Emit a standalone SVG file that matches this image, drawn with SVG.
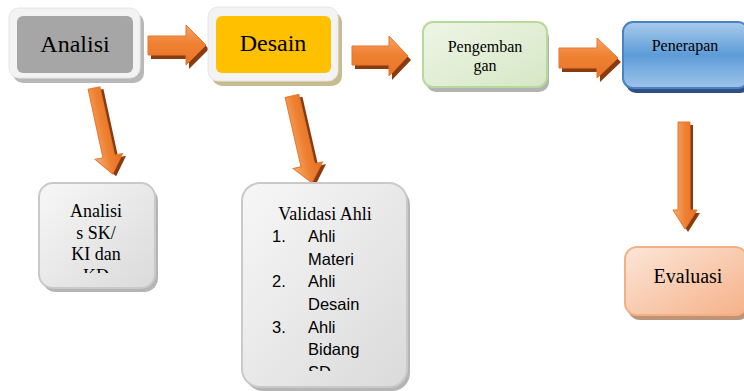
<svg xmlns="http://www.w3.org/2000/svg" width="744" height="391" viewBox="0 0 744 391">
<style>
.serif{font-family:"Liberation Serif","Times New Roman",serif;fill:#000}
.sans{font-family:"Liberation Sans",Arial,sans-serif;fill:#000;font-size:16.5px}
.ash{fill:#8a3b0e}
.arr{fill:url(#gArr)}
.arrh{fill:url(#gArrH)}
</style>
<defs>
<linearGradient id="gArr" x1="0" y1="0" x2="0" y2="1">
<stop offset="0" stop-color="#f6a46a"/><stop offset="0.45" stop-color="#ef8132"/><stop offset="1" stop-color="#e8742a"/>
</linearGradient>
<linearGradient id="gArrH" x1="0" y1="0" x2="1" y2="0">
<stop offset="0" stop-color="#f7ad78"/><stop offset="0.5" stop-color="#ef8132"/><stop offset="1" stop-color="#e46f22"/>
</linearGradient>
<linearGradient id="gGray" x1="0" y1="0" x2="1" y2="1">
<stop offset="0" stop-color="#f7f7f7"/><stop offset="1" stop-color="#dadada"/>
</linearGradient>
<linearGradient id="gGreen" x1="0" y1="0" x2="1" y2="1">
<stop offset="0" stop-color="#eef5e6"/><stop offset="1" stop-color="#d6e7c5"/>
</linearGradient>
<linearGradient id="gBlue" x1="0" y1="0" x2="0" y2="1">
<stop offset="0" stop-color="#a9cbec"/><stop offset="0.5" stop-color="#5d9cd8"/><stop offset="1" stop-color="#9fc4ea"/>
</linearGradient>
<linearGradient id="gPeach" x1="0" y1="0" x2="1" y2="1">
<stop offset="0" stop-color="#fce6d8"/><stop offset="1" stop-color="#f5b188"/>
</linearGradient>
<clipPath id="c1"><rect x="39" y="183" width="116" height="90"/></clipPath>
<clipPath id="c2"><rect x="242" y="183" width="165" height="188"/></clipPath>
</defs>

<g id="connectors">
<g id="a1"><path class="ash" transform="translate(3,4)" d="M148,36 H186 V25 L206,45 L186,65 V55 H148 Z"/><path class="arr" d="M148,36 H186 V25 L206,45 L186,65 V55 H148 Z" stroke="#e5772a" stroke-width="1"/></g>
<g id="a2"><path class="ash" transform="translate(3,4)" d="M352,46 H389 V36 L408,56 L389,76 V65 H352 Z"/><path class="arr" d="M352,46 H389 V36 L408,56 L389,76 V65 H352 Z" stroke="#e5772a" stroke-width="1"/></g>
<g id="a3"><path class="ash" transform="translate(3,4)" d="M559,48 H597 V38 L618,58 L597,78 V68 H559 Z"/><path class="arr" d="M559,48 H597 V38 L618,58 L597,78 V68 H559 Z" stroke="#e5772a" stroke-width="1"/></g>
<g id="a4" transform="translate(94,88) rotate(-12.2)"><path class="ash" transform="translate(3,3)" d="M-6,0 H6 V70 H14 L0,88 L-14,70 H-6 Z"/><path class="arrh" d="M-6,0 H6 V70 H14 L0,88 L-14,70 H-6 Z" stroke="#e5772a" stroke-width="1"/></g>
<g id="a5" transform="translate(292,96) rotate(-12.9)"><path class="ash" transform="translate(3,3)" d="M-7,0 H7 V71 H15 L0,89 L-15,71 H-7 Z"/><path class="arrh" d="M-7,0 H7 V71 H15 L0,89 L-15,71 H-7 Z" stroke="#e5772a" stroke-width="1"/></g>
<g id="a6"><path class="ash" transform="translate(3,3)" d="M678,122 H690 V210 H697 L685,229 L673,210 H678 Z"/><path class="arrh" d="M678,122 H690 V210 H697 L685,229 L673,210 H678 Z" stroke="#e5772a" stroke-width="1"/></g>
</g>

<g id="analisi">
<rect x="13" y="13" width="131" height="70" rx="10" fill="#b8b8b8"/>
<rect x="9" y="8" width="131" height="70" rx="10" fill="#f3f3f3" stroke="#e6e6e6"/>
<rect x="17" y="16" width="116" height="57" rx="6" fill="#a6a6a6"/>
<text class="serif" x="75" y="52" font-size="24" text-anchor="middle">Analisi</text>
</g>

<g id="desain">
<rect x="212" y="12" width="130" height="74" rx="10" fill="#c8bc8e"/>
<rect x="208" y="7" width="130" height="74" rx="10" fill="#f3f3f3" stroke="#e6e6e6"/>
<rect x="216" y="16" width="115" height="57" rx="6" fill="#ffc000"/>
<text class="serif" x="273" y="51" font-size="24" text-anchor="middle">Desain</text>
</g>

<g id="pengembangan">
<rect x="426" y="27" width="123" height="65" rx="10" fill="#b3b3b3"/>
<rect x="423" y="22" width="124" height="65" rx="10" fill="url(#gGreen)" stroke="#b6d99c" stroke-width="2"/>
<text class="serif" x="485" y="52" font-size="16" text-anchor="middle">Pengemban</text>
<text class="serif" x="485" y="71" font-size="16" text-anchor="middle">gan</text>
</g>

<g id="penerapan">
<rect x="626" y="27" width="124" height="66" rx="10" fill="#2f5080"/>
<rect x="623" y="22" width="125" height="66" rx="10" fill="url(#gBlue)" stroke="#4a82c4" stroke-width="2"/>
<text class="serif" x="685" y="51" font-size="16" text-anchor="middle">Penerapan</text>
</g>

<g id="analisis-sk">
<rect x="42" y="187" width="116" height="105" rx="14" fill="#b5b5b5"/>
<rect x="39" y="183" width="116" height="105" rx="14" fill="url(#gGray)" stroke="#c9c9c9" stroke-width="2"/>
<g clip-path="url(#c1)" class="serif" font-size="18" text-anchor="middle">
<text x="96" y="217">Analisi</text>
<text x="96" y="239">s SK/</text>
<text x="96" y="260">KI dan</text>
<text x="96" y="282">KD</text>
</g>
</g>

<g id="validasi">
<rect x="245" y="187" width="165" height="204" rx="18" fill="#b5b5b5"/>
<rect x="242" y="183" width="165" height="204" rx="18" fill="url(#gGray)" stroke="#c9c9c9" stroke-width="2"/>
<text class="serif" x="325" y="220" font-size="18" text-anchor="middle">Validasi Ahli</text>
<g clip-path="url(#c2)" class="sans">
<text x="272" y="242">1.</text><text x="308" y="242">Ahli</text>
<text x="308" y="265">Materi</text>
<text x="272" y="287">2.</text><text x="308" y="287">Ahli</text>
<text x="308" y="310">Desain</text>
<text x="272" y="333">3.</text><text x="308" y="333">Ahli</text>
<text x="308" y="355">Bidang</text>
<text x="308" y="378">SD</text>
</g>
</g>

<g id="evaluasi">
<rect x="628" y="252" width="122" height="68" rx="12" fill="#bd9478"/>
<rect x="625" y="247" width="122" height="68" rx="12" fill="url(#gPeach)" stroke="#f3b084" stroke-width="2"/>
<text class="serif" x="688" y="283" font-size="20" text-anchor="middle">Evaluasi</text>
</g>
</svg>
